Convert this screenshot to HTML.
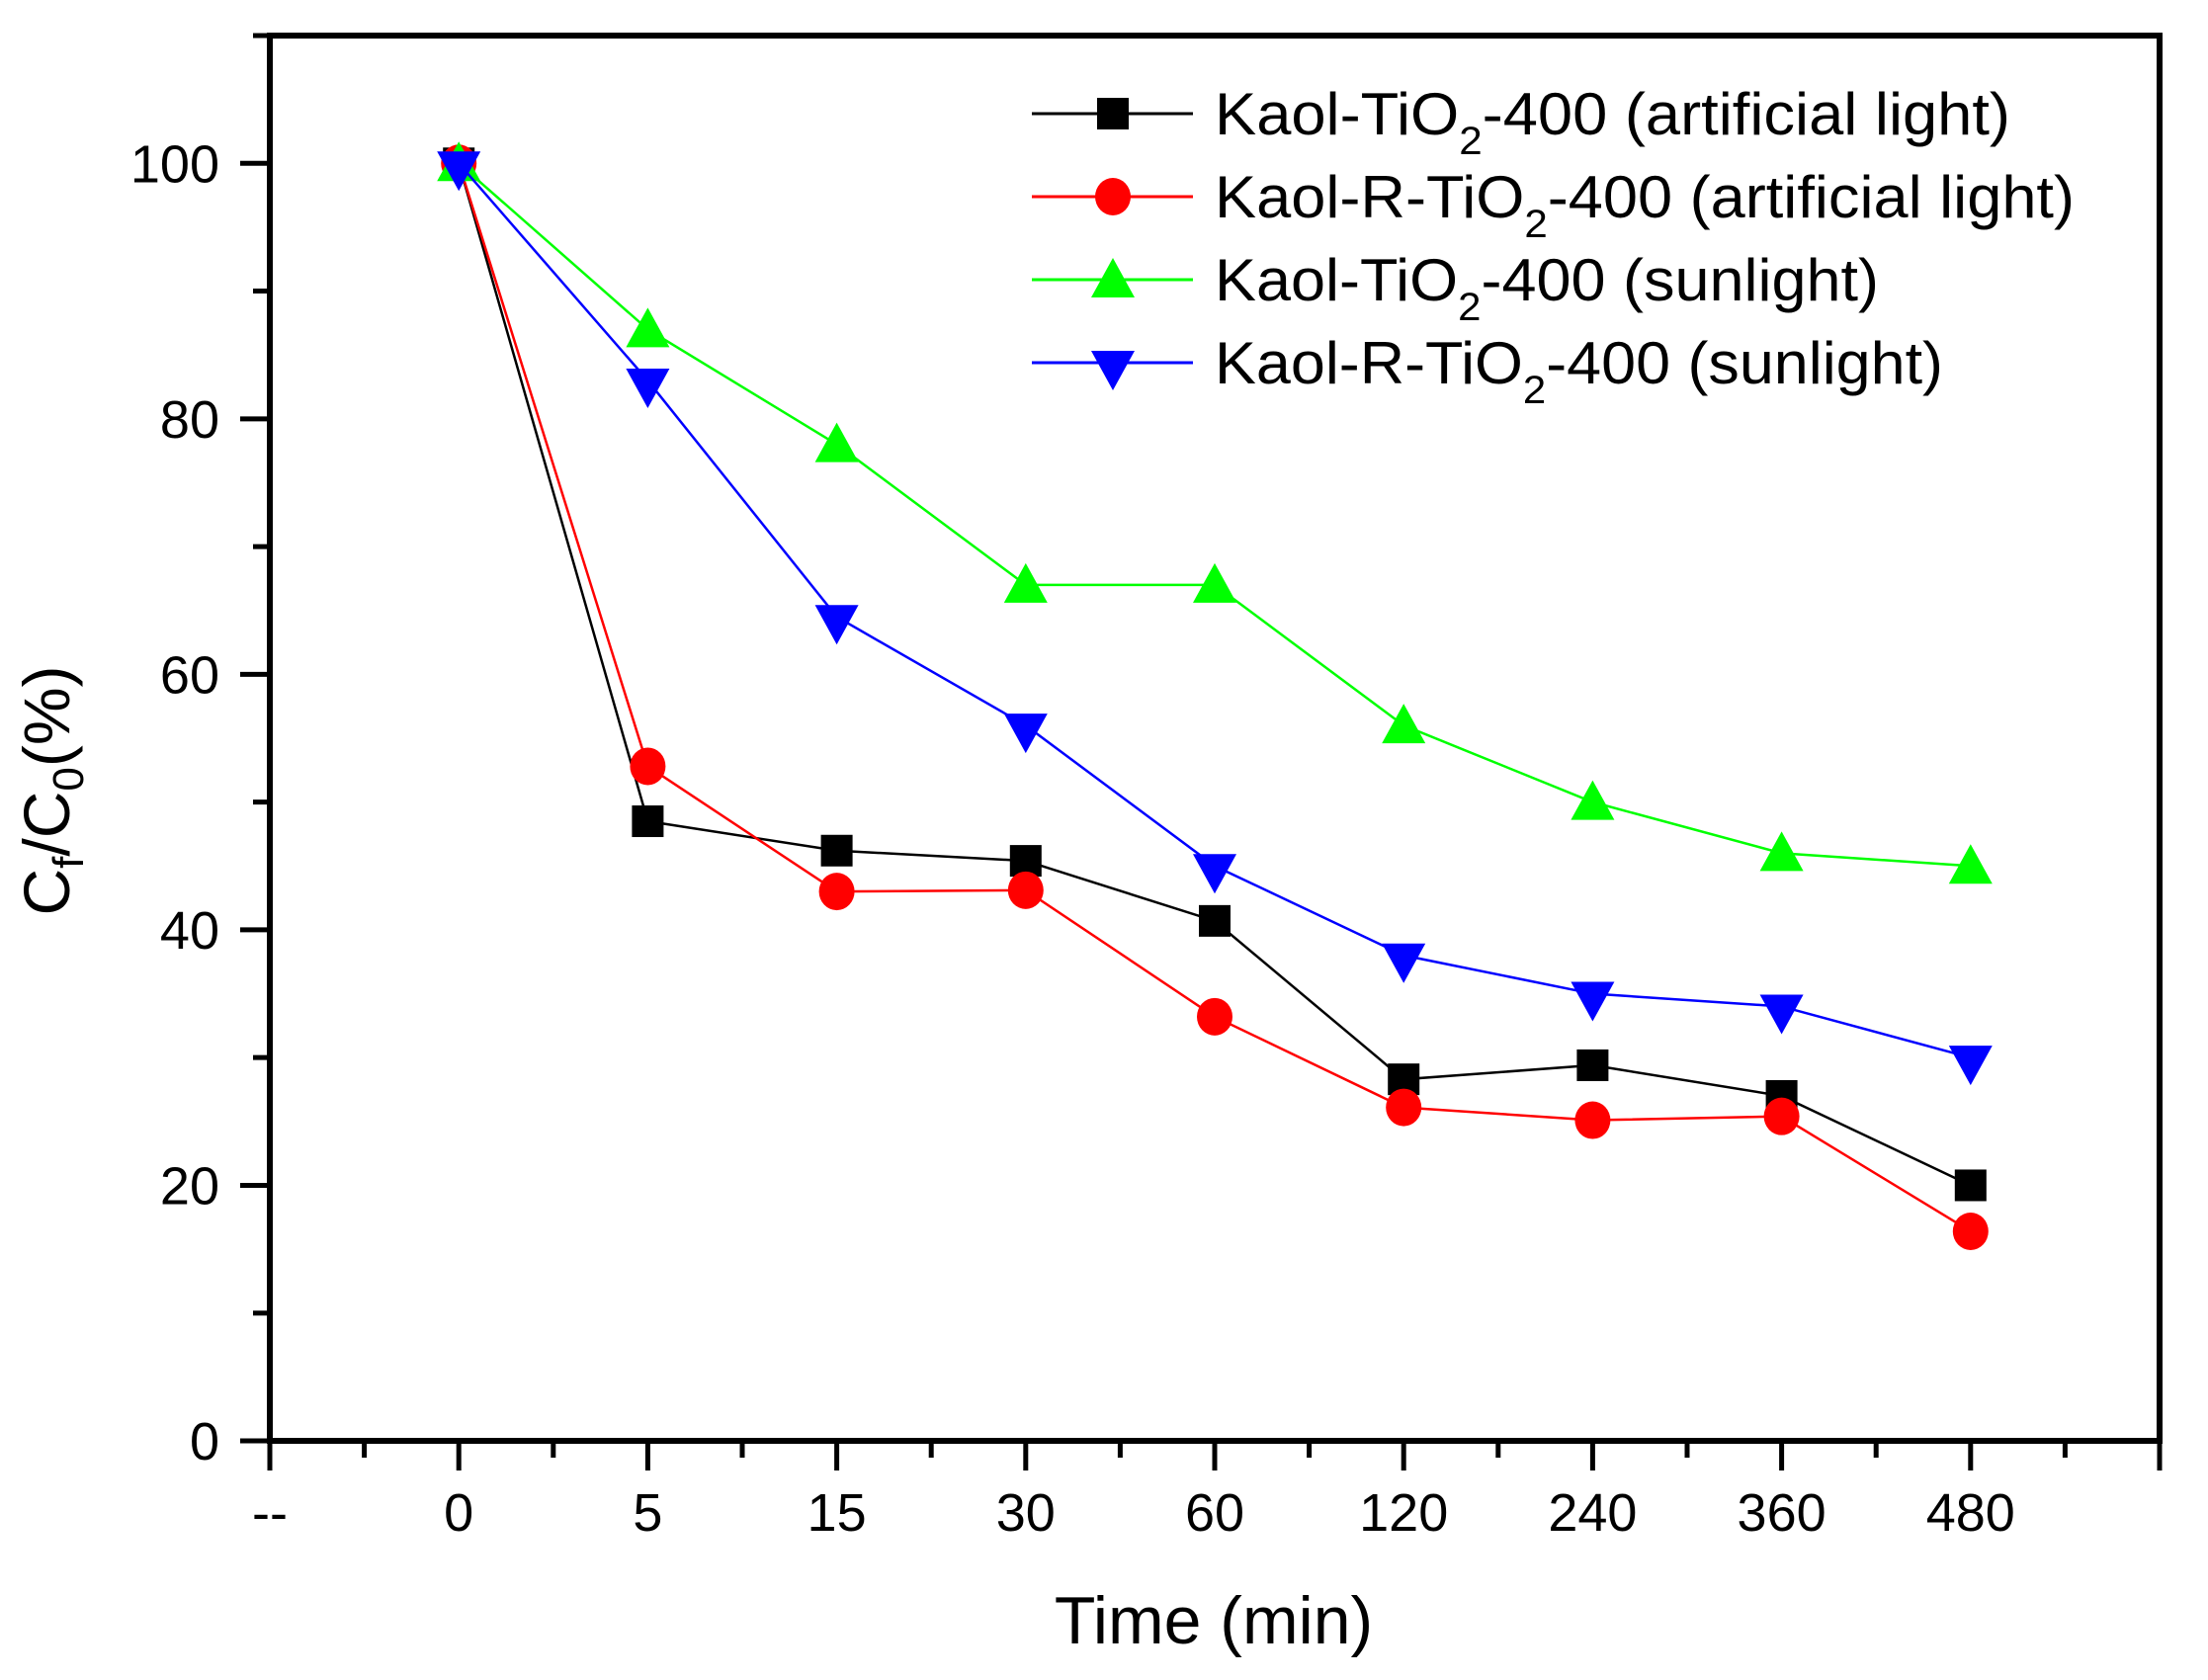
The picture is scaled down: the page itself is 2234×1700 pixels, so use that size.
<!DOCTYPE html>
<html><head><meta charset="utf-8"><style>
html,body{margin:0;padding:0;background:#fff;}
svg{display:block;font-family:"Liberation Sans",Arial,sans-serif;}
</style></head><body>
<svg id="chart" width="2234" height="1700" viewBox="0 0 2234 1700" xmlns="http://www.w3.org/2000/svg">
<g id="plot"></g>
<g id="axes"></g>
<g id="legend"></g>
<text x="1228" y="1663" font-size="68" text-anchor="middle">Time (min)</text>
<text transform="translate(70,800) rotate(-90)" font-size="66" text-anchor="middle">C<tspan font-size="44" dy="14">f</tspan><tspan dy="-14">/C</tspan><tspan font-size="44" dy="14">0</tspan><tspan dy="-14">(%)</tspan></text>
</svg>
<script>
const categories = ["--","0","5","15","30","60","120","240","360","480"];
const yTicks = [0,20,40,60,80,100];
const seriesNames = ["Kaol-TiO|-400 (artificial light)","Kaol-R-TiO|-400 (artificial light)","Kaol-TiO|-400 (sunlight)","Kaol-R-TiO|-400 (sunlight)"];
const blackValues = [100,48.5,46.2,45.4,40.7,28.3,29.4,27,20];
const redValues = [100,52.8,43,43.1,33.2,26.1,25.1,25.4,16.4];
const greenValues = [100,87,78,67,67,56,50,46,45];
const blueValues = [100,83,64.5,56,45,38,35,34,30];

const NS="http://www.w3.org/2000/svg";
const L=273,R=2185,T=36,B=1458,YMAX=110;
const xStep=(R-L)/10;
function xs(i){return L+i*xStep;}
function ys(v){return B-(v/YMAX)*(B-T);}
function mk(tag,attrs,parent){const e=document.createElementNS(NS,tag);for(const k in attrs)e.setAttribute(k,attrs[k]);parent.appendChild(e);return e;}
const axes=document.getElementById('axes'),plot=document.getElementById('plot'),legend=document.getElementById('legend');

// frame
let f=mk('rect',{x:L,y:T,width:R-L,height:B-T,fill:'none',stroke:'#000','stroke-width':6},axes);



// x ticks
for(let i=0;i<=10;i++){
  let t=mk('line',{x1:xs(i),x2:xs(i),y1:B,y2:B+30,stroke:'#000','stroke-width':5},axes);
  
  
  if(i<10){let m=mk('line',{x1:xs(i+0.5),x2:xs(i+0.5),y1:B,y2:B+17,stroke:'#000','stroke-width':5},axes);
  
  }
}
categories.forEach((c,i)=>{
  let t=mk('text',{x:xs(i),y:1549,'font-size':54,'text-anchor':'middle'},axes);
  t.textContent=c;
  
  
});
// y ticks
for(let v=0;v<=110;v+=10){
  const major=v%20===0;
  let t=mk('line',{x1:L-(major?30:17),x2:L,y1:ys(v),y2:ys(v),stroke:'#000','stroke-width':5},axes);
  
  
}
yTicks.forEach(v=>{
  let t=mk('text',{x:222,y:ys(v)+19,'font-size':54,'text-anchor':'end'},axes);
  t.textContent=v;
  
  
});

function marker(type,x,y,color,g){
  let e;
  if(type==='square') e=mk('rect',{x:x-16,y:y-16,width:32,height:32,fill:color},g);
  else if(type==='circle') e=mk('ellipse',{cx:x,cy:y,rx:18,ry:19,fill:color},g);
  else if(type==='up') e=mk('polygon',{points:`${x},${y-22} ${x+22},${y+18} ${x-22},${y+18}`,fill:color},g);
  else e=mk('polygon',{points:`${x},${y+28} ${x+22},${y-12} ${x-22},${y-12}`,fill:color},g);
  return e;
}
const series=[[blackValues,'#000','square'],[redValues,'#ff0000','circle'],[greenValues,'#00ff00','up'],[blueValues,'#0000ff','down']];
series.forEach((s,si)=>{
  const [vals,color,type]=s;
  const g=mk('g',{},plot);
  
  
  let pl=mk('polyline',{points:vals.map((v,i)=>xs(i+1)+','+ys(v)).join(' '),fill:'none',stroke:color,'stroke-width':2.5},g);
  
  
  vals.forEach((v,i)=>{
    const m=marker(type,xs(i+1),ys(v),color,g);
    
    
  });
  // legend
  const ly=115+si*84;
  const lg=mk('g',{},legend);
  
  
  mk('line',{x1:1044,x2:1207,y1:ly,y2:ly,stroke:color,'stroke-width':3},lg);
  marker(type,1126,ly,color,lg);
  const parts=seriesNames[si].split('|');
  const tw=si===0?805:si===1?870:si===2?672:737;
  const t=mk('text',{x:1229,y:ly+21,'font-size':60,textLength:tw,lengthAdjust:'spacingAndGlyphs'},lg);
  
  
  const a=mk('tspan',{},t);a.textContent=parts[0];
  const b=mk('tspan',{'font-size':40,dy:20},t);b.textContent='2';
  const c=mk('tspan',{dy:-20},t);c.textContent=parts[1];
});
</script>
</body></html>
